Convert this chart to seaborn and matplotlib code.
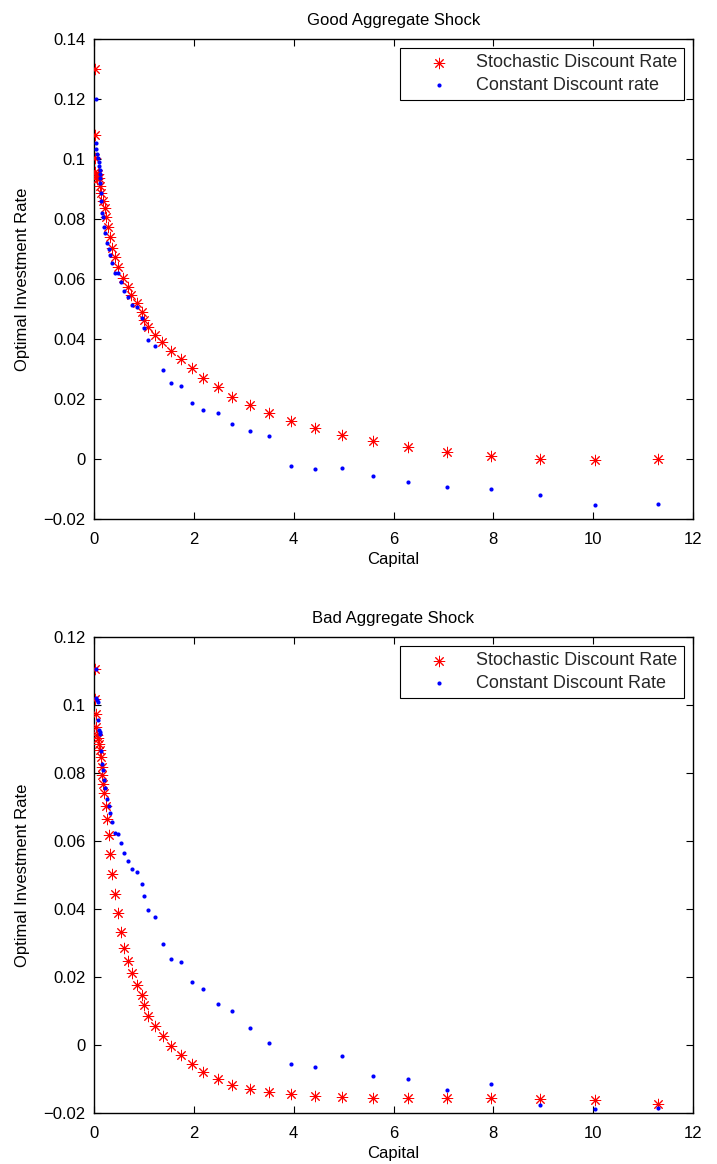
import numpy as np
import pandas as pd
import matplotlib
matplotlib.use("Agg")
import matplotlib.pyplot as plt
from matplotlib.ticker import FuncFormatter, MultipleLocator
import seaborn as sns

# ---------------- data ----------------
good_sdr_k = [0.02, 0.02, 0.02, 0.03, 0.05, 0.06, 0.08, 0.10, 0.12, 0.15, 0.19, 0.22, 0.25,
              0.29, 0.32, 0.37, 0.42, 0.49, 0.59, 0.69, 0.75, 0.87, 0.97, 1.00, 1.09, 1.22,
              1.37, 1.55, 1.74, 1.96, 2.19, 2.48, 2.77, 3.12, 3.50, 3.94, 4.42, 4.97, 5.59,
              6.29, 7.07, 7.95, 8.93, 10.04, 11.30]
good_sdr_i = [0.1300, 0.1079, 0.1004, 0.0958, 0.0945, 0.0932, 0.0950, 0.0938, 0.0911, 0.0886,
              0.0860, 0.0836, 0.0806, 0.0772, 0.0739, 0.0704, 0.0672, 0.0641, 0.0602, 0.0574,
              0.0547, 0.0519, 0.0491, 0.0463, 0.0441, 0.0413, 0.0389, 0.0361, 0.0333, 0.0302,
              0.0271, 0.0239, 0.0208, 0.0180, 0.0152, 0.0127, 0.0103, 0.0081, 0.0059, 0.0040,
              0.0023, 0.0010, 0.0001, -0.0004, -0.0001]

good_cdr_k = [0.04, 0.05, 0.05, 0.07, 0.09, 0.10, 0.11, 0.12, 0.12, 0.12, 0.13, 0.15, 0.15,
              0.17, 0.19, 0.21, 0.23, 0.27, 0.31, 0.33, 0.37, 0.43, 0.49, 0.54, 0.61, 0.69,
              0.77, 0.87, 0.97, 1.01, 1.09, 1.23, 1.38, 1.55, 1.74, 1.97, 2.19, 2.48, 2.77,
              3.12, 3.50, 3.94, 4.42, 4.97, 5.59, 6.29, 7.07, 7.95, 8.93, 10.04, 11.30]
good_cdr_i = [0.1199, 0.1052, 0.1032, 0.1016, 0.1002, 0.0989, 0.0978, 0.0963, 0.0950, 0.0936,
              0.0921, 0.0888, 0.0861, 0.0821, 0.0806, 0.0774, 0.0752, 0.0721, 0.0700, 0.0680,
              0.0654, 0.0621, 0.0619, 0.0591, 0.0561, 0.0539, 0.0513, 0.0508, 0.0471, 0.0436,
              0.0398, 0.0377, 0.0297, 0.0254, 0.0244, 0.0187, 0.0164, 0.0153, 0.0116, 0.0092,
              0.0076, -0.0023, -0.0032, -0.0031, -0.0056, -0.0078, -0.0092, -0.0101, -0.0121,
              -0.0152, -0.0151]

bad_sdr_k = [0.02, 0.02, 0.04, 0.05, 0.07, 0.09, 0.11, 0.13, 0.14, 0.16, 0.17, 0.19, 0.21,
             0.24, 0.27, 0.30, 0.33, 0.37, 0.43, 0.49, 0.54, 0.60, 0.69, 0.77, 0.87, 0.97,
             1.00, 1.09, 1.23, 1.39, 1.55, 1.75, 1.97, 2.19, 2.48, 2.77, 3.12, 3.50, 3.94,
             4.42, 4.97, 5.59, 6.29, 7.07, 7.95, 8.93, 10.04, 11.30]
bad_sdr_i = [0.1106, 0.1018, 0.0974, 0.0934, 0.0912, 0.0902, 0.0885, 0.0868, 0.0846, 0.0819,
             0.0794, 0.0768, 0.0740, 0.0704, 0.0664, 0.0618, 0.0562, 0.0502, 0.0443, 0.0387,
             0.0333, 0.0286, 0.0247, 0.0211, 0.0176, 0.0147, 0.0118, 0.0086, 0.0056, 0.0026,
             -0.0003, -0.0029, -0.0057, -0.0080, -0.0101, -0.0117, -0.0129, -0.0137, -0.0144,
             -0.0149, -0.0153, -0.0155, -0.0155, -0.0155, -0.0156, -0.0160, -0.0163, -0.0174]

bad_cdr_k = [0.04, 0.04, 0.07, 0.09, 0.09, 0.11, 0.12, 0.13, 0.15, 0.17, 0.19, 0.21, 0.23,
             0.27, 0.30, 0.33, 0.37, 0.43, 0.49, 0.54, 0.61, 0.69, 0.77, 0.87, 0.97, 1.01,
             1.09, 1.23, 1.39, 1.55, 1.75, 1.97, 2.19, 2.48, 2.77, 3.12, 3.50, 3.94, 4.42,
             4.97, 5.59, 6.29, 7.07, 7.95, 8.93, 10.04, 11.30]
bad_cdr_i = [0.1106, 0.1020, 0.1015, 0.1010, 0.0956, 0.0926, 0.0922, 0.0915, 0.0866, 0.0826,
             0.0809, 0.0779, 0.0757, 0.0724, 0.0704, 0.0683, 0.0657, 0.0624, 0.0621, 0.0595,
             0.0564, 0.0540, 0.0517, 0.0509, 0.0473, 0.0437, 0.0396, 0.0376, 0.0296, 0.0253,
             0.0244, 0.0185, 0.0164, 0.0122, 0.0101, 0.0050, 0.0006, -0.0057, -0.0066,
             -0.0033, -0.0090, -0.0101, -0.0131, -0.0114, -0.0175, -0.0187, -0.0186]

titles = ["Good Aggregate Shock", "Bad Aggregate Shock"]
sdr_label = "Stochastic Discount Rate"
cdr_labels = ["Constant Discount rate", "Constant Discount Rate"]
x_label = "Capital"
y_label = "Optimal Investment Rate"
x_ticks = [0, 2, 4, 6, 8, 10, 12]
y_lims = [(-0.02, 0.14), (-0.02, 0.12)]

# ---------------- style ----------------
sns.set_theme(style="white")
plt.rcParams["font.family"] = ["Liberation Sans", "DejaVu Sans"]
plt.rcParams["axes.unicode_minus"] = True

fig = plt.figure(figsize=(7.17, 11.64), dpi=100)
ax_top = fig.add_axes([94 / 717, 1 - 519 / 1164, 599 / 717, 480 / 1164])
ax_bot = fig.add_axes([94 / 717, 1 - 1113 / 1164, 599 / 717, 476 / 1164])

panels = [
    (ax_top, good_sdr_k, good_sdr_i, good_cdr_k, good_cdr_i),
    (ax_bot, bad_sdr_k, bad_sdr_i, bad_cdr_k, bad_cdr_i),
]

fmt = FuncFormatter(lambda v, p: ("%g" % round(v, 4)).replace("-", "\u2212"))
star = (8, 2, 0)
fs = 12

for i, (ax, sk, si, ck, ci) in enumerate(panels):
    df_s = pd.DataFrame({"k": sk, "i": si})
    df_c = pd.DataFrame({"k": ck, "i": ci})
    sns.scatterplot(data=df_s, x="k", y="i", ax=ax, marker=star, s=58,
                    color="#ff0000", edgecolor="#ff0000", linewidth=0.7,
                    label=sdr_label, zorder=3)
    sns.scatterplot(data=df_c, x="k", y="i", ax=ax, marker="o", s=9,
                    color="#0000ff", edgecolor="#0000ff", linewidth=0,
                    label=cdr_labels[i], zorder=4)
    ax.set_xlim(0, 12)
    ax.set_ylim(*y_lims[i])
    ax.set_xticks(x_ticks)
    ax.yaxis.set_major_locator(MultipleLocator(0.02))
    ax.yaxis.set_major_formatter(fmt)
    ax.xaxis.set_major_formatter(FuncFormatter(lambda v, p: "%g" % v))
    ax.tick_params(axis="y", direction="in", length=5, width=0.8, left=True, right=True,
                   labelsize=fs, colors="black", pad=6)
    ax.tick_params(axis="x", direction="in", length=5, width=0.8, top=True, bottom=True,
                   labelsize=fs, colors="black", pad=9)
    for sp in ax.spines.values():
        sp.set_color("black")
        sp.set_linewidth(1.0)
        sp.set_visible(True)
    ax.set_xlabel(x_label, fontsize=fs, color="black", labelpad=4)
    ax.set_ylabel(y_label, fontsize=fs, color="black", labelpad=10)
    ax.set_title(titles[i], fontsize=fs, color="black", pad=10)
    leg = ax.legend(loc="upper right", fontsize=fs + 1, frameon=True, fancybox=False,
                    edgecolor="black", framealpha=1, borderpad=0.35,
                    handletextpad=0.2, handlelength=3.7, borderaxespad=0.5,
                    labelspacing=0.3)
    leg.get_frame().set_linewidth(0.8)

fig.savefig("out.png", dpi=100)
